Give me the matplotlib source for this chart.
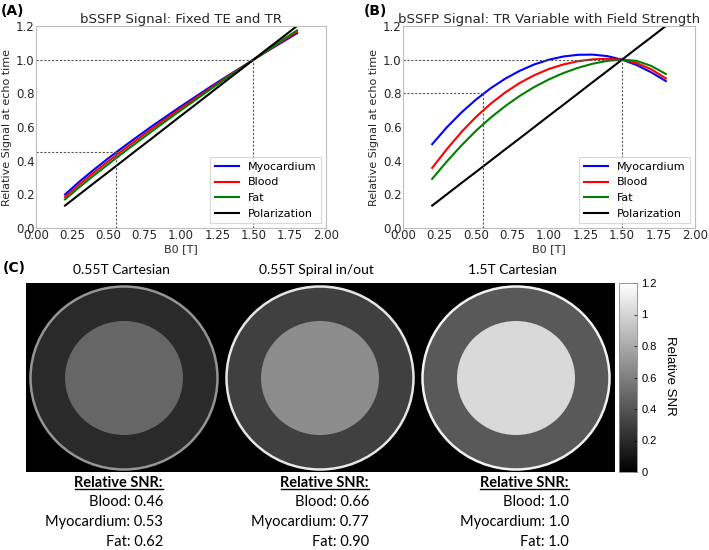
import matplotlib
matplotlib.use("Agg")
import matplotlib.pyplot as plt
from matplotlib.patches import Ellipse
import matplotlib.cm as cm
import matplotlib.colors as mcolors

# ---------------- data ----------------
b0 = [0.2, 0.3, 0.4, 0.5, 0.6, 0.7, 0.8, 0.9, 1.0, 1.1, 1.2, 1.3, 1.4, 1.5, 1.6, 1.7, 1.8]

a_myo = [0.199, 0.276, 0.347, 0.415, 0.480, 0.543, 0.605, 0.664, 0.723, 0.780, 0.837, 0.892, 0.946, 1.0, 1.053, 1.105, 1.157]
a_blood = [0.184, 0.259, 0.330, 0.397, 0.463, 0.527, 0.590, 0.651, 0.712, 0.771, 0.829, 0.887, 0.944, 1.0, 1.056, 1.111, 1.165]
a_fat = [0.170, 0.243, 0.313, 0.380, 0.447, 0.511, 0.575, 0.638, 0.700, 0.761, 0.822, 0.882, 0.941, 1.0, 1.058, 1.117, 1.174]
polar = [0.133, 0.200, 0.267, 0.333, 0.400, 0.467, 0.533, 0.600, 0.667, 0.733, 0.800, 0.867, 0.933, 1.0, 1.067, 1.133, 1.200]

b_myo = [0.498, 0.598, 0.686, 0.763, 0.830, 0.887, 0.934, 0.972, 1.000, 1.019, 1.029, 1.030, 1.021, 1.0, 0.968, 0.925, 0.873]
b_blood = [0.357, 0.468, 0.570, 0.660, 0.738, 0.805, 0.862, 0.908, 0.945, 0.972, 0.991, 1.002, 1.005, 1.0, 0.980, 0.943, 0.889]
b_fat = [0.292, 0.395, 0.490, 0.578, 0.655, 0.724, 0.785, 0.838, 0.883, 0.921, 0.952, 0.976, 0.993, 1.0, 0.993, 0.963, 0.915]

series_names = ["Myocardium", "Blood", "Fat", "Polarization"]
series_colors = ["blue", "red", "green", "black"]

xticks = [0.0, 0.25, 0.5, 0.75, 1.0, 1.25, 1.5, 1.75, 2.0]
yticks = [0.0, 0.2, 0.4, 0.6, 0.8, 1.0, 1.2]

# reference guide points (x, y)
guides_a = [(1.5, 1.0), (0.55, 0.45)]
guides_b = [(1.5, 1.0), (0.55, 0.8)]

# phantom panel (C)
phantom_titles = ["0.55T Cartesian", "0.55T Spiral in/out", "1.5T Cartesian"]
inner_val = [0.48, 0.66, 1.02]     # displayed intensity, inner disc
middle_val = [0.20, 0.30, 0.42]    # displayed intensity, annulus
ring_val = [0.70, 1.08, 1.13]      # displayed intensity, thin outer ring
snr_blood = ["0.46", "0.66", "1.0"]
snr_myo = ["0.53", "0.77", "1.0"]
snr_fat = ["0.62", "0.90", "1.0"]
cbar_ticks = [0, 0.2, 0.4, 0.6, 0.8, 1.0, 1.2]
cbar_labels = ["0", "0.2", "0.4", "0.6", "0.8", "1", "1.2"]

# ---------------- figure ----------------
W, H = 709, 550
fig = plt.figure(figsize=(W / 100, H / 100), dpi=100)


def px_rect(l, t, r, b):
    return [l / W, 1 - b / H, (r - l) / W, (b - t) / H]


def line_panel(ax, ys, title, guides):
    for y, name, c in zip(ys, series_names, series_colors):
        ax.plot(b0, y, color=c, lw=1.5, label=name)
    for gx, gy in guides:
        ax.plot([0, gx], [gy, gy], ls=(0, (2, 1.5)), color="#555555", lw=0.8)
        ax.plot([gx, gx], [0, gy], ls=(0, (2, 1.5)), color="#555555", lw=0.8)
    ax.set_xlim(0, 2)
    ax.set_ylim(0, 1.2)
    ax.set_xticks(xticks)
    ax.set_xticklabels([f"{v:.2f}" for v in xticks])
    ax.set_yticks(yticks)
    ax.set_yticklabels([f"{v:.1f}" for v in yticks])
    ax.tick_params(length=0, labelsize=8.5, colors="#262626", pad=1)
    for s in ax.spines.values():
        s.set_color("#bdbdbd")
        s.set_linewidth(0.8)
    ax.set_xlabel("B0 [T]", fontsize=8, color="#262626", labelpad=1)
    ax.set_ylabel("Relative Signal at echo time", fontsize=8, color="#262626", labelpad=3)
    ax.set_title(title, fontsize=9.6, color="#262626", pad=2)
    leg = ax.legend(loc="lower right", fontsize=8, frameon=True, fancybox=False,
                    borderaxespad=0.45, handlelength=2.2, labelspacing=0.5)
    leg.get_frame().set_edgecolor("#d0d0d0")
    leg.get_frame().set_linewidth(0.8)


axA = fig.add_axes(px_rect(36, 26, 326, 228))
line_panel(axA, [a_myo, a_blood, a_fat, polar], "bSSFP Signal: Fixed TE and TR", guides_a)
axB = fig.add_axes(px_rect(403, 26, 695, 228))
line_panel(axB, [b_myo, b_blood, b_fat, polar], "bSSFP Signal: TR Variable with Field Strength", guides_b)

fig.text(1 / W, 1 - 11 / H, "(A)", fontsize=10, fontweight="bold", va="center", ha="left")
fig.text(364 / W, 1 - 11 / H, "(B)", fontsize=10, fontweight="bold", va="center", ha="left")
fig.text(3 / W, 1 - 268 / H, "(C)", fontsize=10, fontweight="bold", va="center", ha="left")

# ---------------- phantom images ----------------
cmap = plt.get_cmap("gray")
norm = mcolors.Normalize(vmin=0, vmax=1.2)

axC = fig.add_axes(px_rect(26, 283, 615, 472))
axC.set_facecolor("black")
axC.set_xlim(0, 589)
axC.set_ylim(0, 189)
axC.set_xticks([])
axC.set_yticks([])
for s in axC.spines.values():
    s.set_visible(False)

panel_w = 196
for i in range(3):
    cx = 98 + i * panel_w
    cy = 94
    outer = Ellipse((cx, cy), 187, 183, facecolor=cmap(norm(middle_val[i])),
                    edgecolor=cmap(norm(ring_val[i])), lw=1.8)
    inner = Ellipse((cx, cy), 118, 114, facecolor=cmap(norm(inner_val[i])), edgecolor="none")
    axC.add_patch(outer)
    axC.add_patch(inner)

label_font = ["Lato", "DejaVu Sans"]
title_cx = [121, 316, 512]
for i in range(3):
    fig.text(title_cx[i] / W, 1 - 270 / H, phantom_titles[i], fontsize=10,
             family=label_font, ha="center", va="center")

right_x = [163, 369, 569]
line_y = [483, 502, 522, 542]
for i in range(3):
    t = fig.text(right_x[i] / W, 1 - line_y[0] / H, "Relative SNR:", fontsize=10.5,
                 family=label_font, fontweight="bold", ha="right", va="center")
    fig.text(right_x[i] / W, 1 - line_y[1] / H, f"Blood: {snr_blood[i]}", fontsize=10.5,
             family=label_font, ha="right", va="center")
    fig.text(right_x[i] / W, 1 - line_y[2] / H, f"Myocardium: {snr_myo[i]}", fontsize=10.5,
             family=label_font, ha="right", va="center")
    fig.text(right_x[i] / W, 1 - line_y[3] / H, f"Fat: {snr_fat[i]}", fontsize=10.5,
             family=label_font, ha="right", va="center")
    # underline
    fig.canvas.draw()
    bb = t.get_window_extent()
    fig.add_artist(plt.Line2D([bb.x0 / W, bb.x1 / W], [(bb.y0 + 1) / H, (bb.y0 + 1) / H],
                              color="black", lw=1.0))

# ---------------- colorbar ----------------
cax = fig.add_axes(px_rect(619, 283, 637, 472))
sm = cm.ScalarMappable(norm=norm, cmap=cmap)
cb = fig.colorbar(sm, cax=cax, ticks=cbar_ticks)
cb.ax.set_yticklabels(cbar_labels)
cb.ax.tick_params(direction="in", length=2, width=0.5, labelsize=8, pad=3)
for lab in cb.ax.get_yticklabels():
    lab.set_family(["Liberation Sans", "DejaVu Sans"])
cb.outline.set_edgecolor("#888888")
cb.outline.set_linewidth(0.6)
fig.text(670 / W, 1 - 376 / H, "Relative SNR", rotation=270, fontsize=9.5,
         family=["Liberation Sans", "DejaVu Sans"], ha="center", va="center")

fig.savefig("out.png", dpi=100)
